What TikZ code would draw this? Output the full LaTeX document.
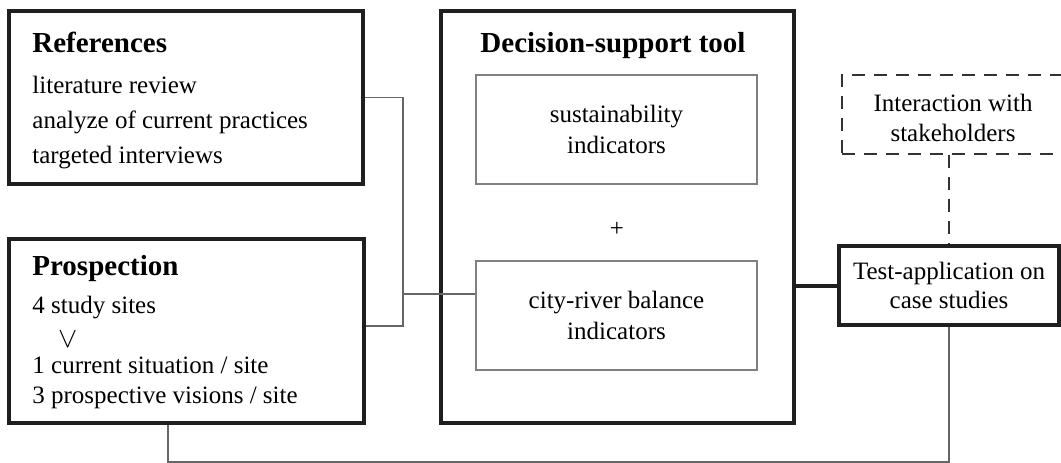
\documentclass[tikz,border=0pt]{standalone}
\usepackage{fontspec}
\setmainfont{Liberation Serif}
\usetikzlibrary{positioning,calc}

\begin{document}
\begin{tikzpicture}[x=0.5pt, y=-0.5pt,
  bigbox/.style={draw=black!88, line width=2pt, inner sep=0pt},
  innerbox/.style={draw=black!50, line width=0.75pt, inner sep=0pt, align=center, font={\fontsize{12.5pt}{15.5pt}\selectfont}},
  dashbox/.style={draw=black!80, line width=1.3pt, dash pattern=on 6.5pt off 4.5pt},
  conn/.style={draw=black!60, line width=0.75pt},
  strongconn/.style={draw=black!88, line width=2pt},
  ttl/.style={font={\fontsize{14.5pt}{17pt}\selectfont\bfseries}, inner sep=0pt, anchor=base west},
  body/.style={font={\fontsize{12.5pt}{15pt}\selectfont}, inner sep=0pt, anchor=base west}]
\useasboundingbox (0,0) rectangle (1061,462);

% boxes
\node[bigbox, minimum width=177pt, minimum height=86.5pt] (ref) at (186,97.5) {};
\node[bigbox, minimum width=177.5pt, minimum height=92pt] (pros) at (186.5,331) {};
\node[bigbox, minimum width=176.5pt, minimum height=206pt] (dst) at (617.5,217) {};
\node[innerbox, minimum width=140.5pt, minimum height=54.5pt] (sus) at (616.5,129.5) {sustainability\\indicators};
\node[innerbox, minimum width=140.5pt, minimum height=54.5pt] (crb) at (616.5,315.5) {city-river balance\\indicators};
\node[body, anchor=center] (plus) at (617,229) {+};
\node[bigbox, minimum width=110pt, minimum height=39.5pt, align=center, font={\fontsize{12.5pt}{14.5pt}\selectfont}] (test) at (949,285.5) {Test-application on\\case studies};
% dashed box runs on past the right edge of the page
\node[dashbox, minimum width=140pt, minimum height=39.5pt] (inter) at (982,114.5) {};
\node[body, anchor=center, align=center] (intertxt) at (953,118) {Interaction with\\stakeholders};

% texts
\node[ttl] (reft) at (32,52) {References};
\foreach \txt [count=\i] in {literature review, analyze of current practices, targeted interviews}
  \node[body] (refl\i) at (32,{58+35*\i}) {\txt};
\node[ttl] (prost) at (32,275) {Prospection};
\node[body] (prosa) at (32,313) {4 study sites};
\node[body, anchor=base, font={\fontsize{15pt}{15pt}\selectfont}] (prosv) at (68,347) {$\vee$};
\foreach \txt [count=\i] in {1 current situation / site, 3 prospective visions / site}
  \node[body] (prosl\i) at (32,{343+30*\i}) {\txt};
\node[ttl, anchor=base] (dstt) at (613,52) {Decision-support tool};

% connectors
\coordinate (jn) at (403,294);
\draw[conn] (ref.east) -| (jn) |- ([yshift=2.5pt]pros.east);
\draw[conn] (jn) -- (jn -| crb.west);
\draw[strongconn] (dst.east |- test.west) -- (test.west);
\draw[conn] ([xshift=-9.25pt]pros.south) -- ++(0,37) -| (test.south);
\draw[dashbox] (test.north |- inter.south) -- (test.north);
\end{tikzpicture}
\end{document}
